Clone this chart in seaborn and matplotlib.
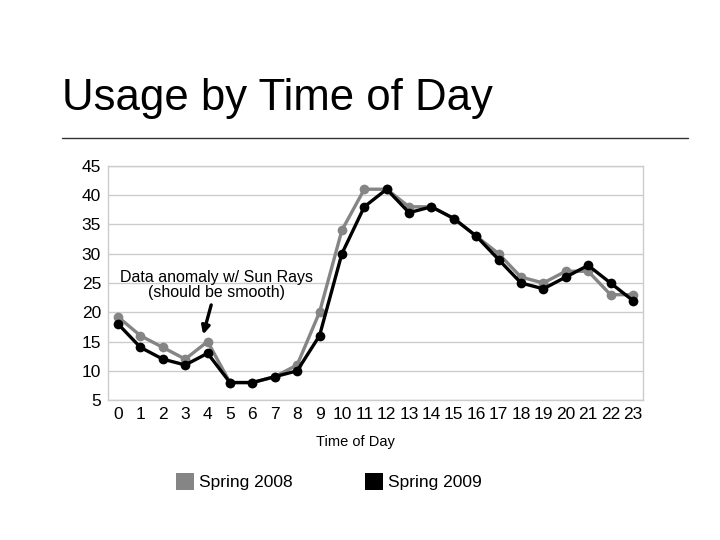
import numpy as np
import pandas as pd
import matplotlib
matplotlib.use("Agg")
import matplotlib.pyplot as plt
from matplotlib.patches import Patch
from matplotlib.lines import Line2D
import seaborn as sns

# Data
hours = list(range(24))
spring_2008 = [19.2, 16, 14, 12, 15, 8, 8, 9, 11, 20, 34, 41, 41, 38, 38, 36, 33, 30, 26, 25, 27, 27, 23, 23]
spring_2009 = [18, 14, 12, 11, 13, 8, 8, 9, 10, 16, 30, 38, 41, 37, 38, 36, 33, 29, 25, 24, 26, 28, 25, 22]
series_names = ["Spring 2008", "Spring 2009"]
series_colors = ["#858585", "#000000"]

df = pd.DataFrame({"hour": hours * 2,
                   "usage": spring_2008 + spring_2009,
                   "season": [series_names[0]] * 24 + [series_names[1]] * 24})

sns.set_theme(style="white")
plt.rcParams["font.family"] = ["Liberation Sans", "DejaVu Sans"]
plt.rcParams["text.color"] = "black"
plt.rcParams["axes.labelcolor"] = "black"
plt.rcParams["xtick.color"] = "black"
plt.rcParams["ytick.color"] = "black"

fig = plt.figure(figsize=(7.2, 5.4), dpi=100)
ax = fig.add_axes([0.150, 0.259, 0.743, 0.434])

sns.lineplot(data=df, x="hour", y="usage", hue="season", palette=series_colors,
             marker="o", markersize=7, markeredgewidth=0, linewidth=2.4,
             legend=False, ax=ax)

ax.set_xlim(-0.45, 23.45)
ax.set_ylim(5, 45)
ax.set_xticks(hours)
ax.set_yticks(range(5, 50, 5))
ax.tick_params(axis="both", labelsize=12.5, length=0, pad=5)
ax.yaxis.grid(True, color="#cccccc", linewidth=1)
for s in ax.spines.values():
    s.set_color("#cccccc")
    s.set_linewidth(1)
ax.set_xlabel("Time of Day", fontsize=10.5)
ax.xaxis.set_label_coords(0.462, -0.15)
ax.set_ylabel("")

# annotation about the anomaly at 4am
ax.annotate("Data anomaly w/ Sun Rays\n(should be smooth)",
            xy=(3.8, 16.2), xytext=(4.4, 24.6), ha="center", va="center",
            fontsize=11.5, linespacing=1.0,
            arrowprops=dict(arrowstyle="-|>", color="black", lw=2.4,
                            mutation_scale=12, shrinkA=1, shrinkB=0))

# title and rule
fig.text(0.086, 0.817, "Usage by Time of Day", fontsize=31.5, ha="left", va="center")
fig.add_artist(Line2D([0.086, 0.956], [0.744, 0.744], color="#333333", linewidth=1))

handles = [Patch(facecolor=c, edgecolor="none") for c in series_colors]
fig.legend(handles, series_names, loc="center", bbox_to_anchor=(0.457, 0.108),
           ncol=2, frameon=False, fontsize=12.5, handlelength=1.0, handleheight=1.1,
           handletextpad=0.3, columnspacing=4.2)

fig.savefig("out.png", dpi=100)
